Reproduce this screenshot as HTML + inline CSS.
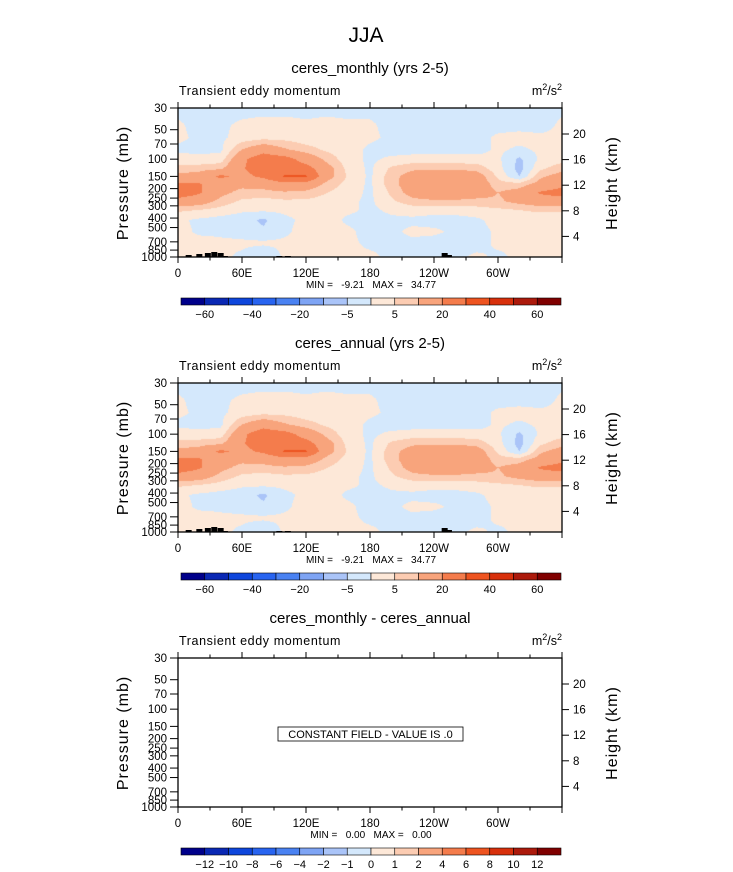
<!DOCTYPE html>
<html><head><meta charset="utf-8">
<style>
body{margin:0;background:#fff;width:733px;height:872px;overflow:hidden;position:relative;font-family:"Liberation Sans",sans-serif}
canvas{position:absolute}
svg{position:absolute;left:0;top:0}
text{font-family:"Liberation Sans",sans-serif;fill:#000;white-space:pre}
</style></head>
<body>
<canvas id="c1" width="384" height="149" style="left:178px;top:108px"></canvas>
<canvas id="c2" width="384" height="149" style="left:178px;top:383px"></canvas>
<svg id="s" width="733" height="872"></svg>
<script>
// ---- data ----
const lons=[0,20,40,60,80,100,120,140,160,180,200,220,240,260,280,300,320,340,360];
const pres=[30,45,60,80,100,125,150,180,220,270,330,420,550,720,1000];
const fieldMonthly=[
[-2,-2,-2,-2,-2,-2,-2,-2,-2,-2,-2,-2,-2,-2,-2,-2,-2,-2,-1],
[1,-2,-1,1,2,2,1,2,1,1,-2,-2,-2,-2,-2,-2,-2,-2,1],
[1,-1,-1,2,3,3,2,2,2,1,-1,-2,-2,-2,-2,1,2,1,1],
[-1,-1,-1,10,16,11,7,4,2,-1,-2,-2,-2,-2,-2,1,-1,1,1],
[2,1,2,18,26,24,16,8,2,-1,1,2,2,2,2,1,-6,1,3],
[7,8,9,19,26,25,24,13,3,-1,6,9,9,9,8,2,-7,4,8],
[12,13,22,17,22,31,31,13,4,-1,8,13,16,16,14,4,-5,9,13],
[22,21,13,12,13,17,16,8,3,-1,8,14,17,17,15,7,7,13,17],
[26,21,12,8,8,9,8,5,2,-1,6,13,15,15,14,10,13,21,24],
[16,14,8,4,3,4,4,3,1,-1,4,8,9,9,8,9,12,15,15],
[6,5,3,1,1,1,1,1,1,-1,1,2,2,2,3,4,5,6,6],
[1,-1,-2,-3,-6,-1,1,2,-1,-2,-1,-1,-2,-2,-1,2,2,2,1],
[2,-1,-1,-2,-4,-1,2,1,1,-2,-1,1,1,-1,-2,1,2,2,2],
[2,2,1,1,1,1,1,2,1,-1,-1,-1,-2,-2,-2,1,1,1,2],
[1,1,1,-1,-5,1,1,1,1,1,-1,-1,-1,-1,1,-1,1,1,1]];
const fieldAnnual=fieldMonthly;
const levels=[-60,-50,-40,-30,-20,-10,-5,0,5,10,20,30,40,50,60];
const diffLabels=['-12','-10','-8','-6','-4','-2','-1','0','1','2','4','6','8','10','12'];
const levelLabels=['-60','-40','-20','-5','5','20','40','60'];
const colors=['#00008a','#0a28b4','#0e46dc','#2864f0','#4a82f2','#7ea4f4','#aac4f8','#d4e8fc','#fde8d8','#fcccb2','#f8a47c','#f47c4c','#ee5420','#d8300c','#ac1a0c','#800000'];
const presTicks=[30,50,70,100,150,200,250,300,400,500,700,850,1000];
const htTicks=[4,8,12,16,20];
const lonTicks=[0,60,120,180,240,300];
const lonLabels=['0','60E','120E','180','120W','60W'];
const stats=[['-9.21','34.77'],['-9.21','34.77'],['0.00','0.00']];
const titles=['ceres_monthly (yrs 2-5)','ceres_annual (yrs 2-5)','ceres_monthly - ceres_annual'];
// ---- axes ----
const X0=178,X1=562,H=149;
const xs=l=>X0+(l/360)*(X1-X0);
const ys=(p,top)=>top+H*Math.log(p/30)/Math.log(1000/30);
const yh=(h,top)=>top+154-6.4*h;
function lvlIndex(v){let i=0;while(i<levels.length&&v>=levels[i])i++;return i;}
function sample(f,lon,p){
  let i=Math.min(lons.length-2,Math.floor(lon/20));let tx=(lon-lons[i])/20;
  const lp=Math.log(p);let j=0;while(j<pres.length-2&&lp>Math.log(pres[j+1]))j++;
  let ty=(lp-Math.log(pres[j]))/(Math.log(pres[j+1])-Math.log(pres[j]));ty=Math.max(0,Math.min(1,ty));
  const a=f[j][i]*(1-tx)+f[j][i+1]*tx,b=f[j+1][i]*(1-tx)+f[j+1][i+1]*tx;return a*(1-ty)+b*ty;}
function draw(id,f){
  const c=document.getElementById(id).getContext('2d');
  for(let py=0;py<H;py++){const p=30*Math.exp(Math.log(1000/30)*(py+0.5)/H);
    for(let px=0;px<384;px++){const lon=(px+0.5)/384*360;
      c.fillStyle=colors[lvlIndex(sample(f,lon,p))];c.fillRect(px,py,1,1);}}}
draw('c1',fieldMonthly);draw('c2',fieldAnnual);
const S=document.getElementById('s');const NS='http://www.w3.org/2000/svg';
function el(t,a,txt){const e=document.createElementNS(NS,t);for(const k in a)e.setAttribute(k,a[k]);if(txt!==undefined)e.textContent=txt;S.appendChild(e);return e;}
let e=el('text',{x:366,y:42,'font-size':21,'text-anchor':'middle',fill:'#222'},'JJA');


for(let k=0;k<3;k++){
  const top=108+275*k,o=275*k;
  e=el('text',{x:370,y:73+o,'font-size':15,'text-anchor':'middle'},titles[k]);
  
  
  e=el('text',{x:179,y:95+o,'font-size':12.5,'letter-spacing':'0.6'},'Transient eddy momentum');
  
  
  e=el('text',{x:562,y:95+o,'font-size':12.5,'text-anchor':'end'});
  e.innerHTML='m<tspan dy="-5" font-size="9">2</tspan><tspan dy="5">/s</tspan><tspan dy="-5" font-size="9">2</tspan>';
  
  
  if(k===2){
    e=el('rect',{x:278,y:727,width:185,height:14,fill:'#fff',stroke:'#000','stroke-width':0.8});
    
    
    e=el('text',{x:370.5,y:738,'font-size':11,'text-anchor':'middle'},'CONSTANT FIELD - VALUE IS .0');
    
    
  } else {
    const topo=[[10,2],[20,3],[28,4],[34,5],[40,4],[44,1],[95,1],[103,1],[250,4],[254,2]];
    topo.forEach(t=>{e=el('rect',{x:xs(t[0])-3,y:top+H-t[1],width:6,height:t[1],fill:'#000'});
      
      });
  }
  e=el('rect',{x:X0,y:top,width:X1-X0,height:H,fill:'none',stroke:'#000','stroke-width':1.3});
  
  
  for(let l=0;l<=360;l+=30){const major=l%60===0,len=major?6:3.5;
    el('line',{x1:xs(l),x2:xs(l),y1:top+H,y2:top+H+len,stroke:'#000'});
    el('line',{x1:xs(l),x2:xs(l),y1:top,y2:top-len,stroke:'#000'});}
  lonTicks.forEach((l,i)=>{e=el('text',{x:xs(l),y:top+H+20,'font-size':11.5,'text-anchor':'middle'},lonLabels[i]);
    
    });
  presTicks.forEach(p=>{const y=ys(p,top);el('line',{x1:X0-8,x2:X0,y1:y,y2:y,stroke:'#000'});
    e=el('text',{x:X0-11,y:y+4,'font-size':11.5,'text-anchor':'end'},String(p));
    
    });
  htTicks.forEach(h=>{const y=yh(h,top);el('line',{x1:X1,x2:X1+7,y1:y,y2:y,stroke:'#000'});
    e=el('text',{x:X1+11,y:y+4,'font-size':11.5},String(h));
    
    });
  e=el('text',{x:0,y:0,'font-size':16,'text-anchor':'middle',fill:'#444','letter-spacing':'1',transform:`translate(128,${top+75}) rotate(-90)`},'Pressure (mb)');
  
  
  e=el('text',{x:0,y:0,'font-size':16,'text-anchor':'middle',fill:'#444','letter-spacing':'1',transform:`translate(617,${top+75}) rotate(-90)`},'Height (km)');
  
  
  e=el('text',{x:371,y:top+H+31,'font-size':10,'text-anchor':'middle'},`MIN =   ${stats[k][0]}   MAX =   ${stats[k][1]}`);
  
  
  const cb0=181,cb1=561,cy=top+190,bw=(cb1-cb0)/16;
  colors.forEach((c,i)=>{e=el('rect',{x:cb0+i*bw,y:cy,width:bw,height:7,fill:c,stroke:'#000','stroke-width':0.6});
    
    });
  if(k<2){levelLabels.forEach((t,i)=>{e=el('text',{x:cb0+(2*i+1)*bw,y:cy+20,'font-size':11,'text-anchor':'middle'},t.replace('-','\u2212'));
      
      });}
  else {diffLabels.forEach((t,i)=>{e=el('text',{x:cb0+(i+1)*bw,y:cy+20,'font-size':11,'text-anchor':'middle'},t.replace('-','\u2212'));
      
      });}
}
</script>
</body></html>
